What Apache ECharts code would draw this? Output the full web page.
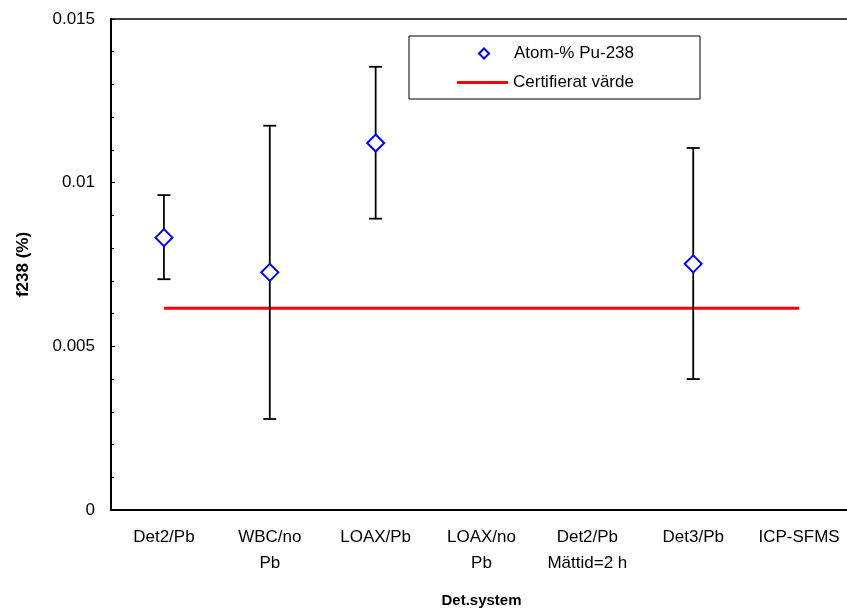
<!DOCTYPE html>
<html>
<head>
<meta charset="utf-8">
<script src="https://cdn.jsdelivr.net/npm/echarts@6/dist/echarts.min.js"></script>
<style>
html,body{margin:0;padding:0;background:#fff;}
#chart{width:847px;height:612px;}
</style>
</head>
<body>
<div id="chart"></div>
<script>
const categories = ['Det2/Pb', 'WBC/no\nPb', 'LOAX/Pb', 'LOAX/no\nPb', 'Det2/Pb\nMättid=2 h', 'Det3/Pb', 'ICP-SFMS'];
const atomPct = [0.00832, 0.00726, 0.01121, null, null, 0.00752, null];
const errLow = [0.00705, 0.00278, 0.00890, null, null, 0.00400, null];
const errHigh = [0.00962, 0.01174, 0.01354, null, null, 0.01106, null];
const certValue = [0.00616, 0.00616, 0.00616, 0.00616, 0.00616, 0.00616, 0.00616];
const yTicks = { min: 0, max: 0.015, interval: 0.005, minorInterval: 0.001 };

const errData = categories.map((c, i) => [i, errLow[i], errHigh[i]]).filter(d => d[1] != null);

const chart = echarts.init(document.getElementById('chart'));
const font = 'Liberation Sans, Arial, sans-serif';
chart.setOption({
  animation: false,
  backgroundColor: '#fff',
  grid: { left: 111, top: 19, height: 491, width: 741, outerBoundsMode: 'none', containLabel: false,
          show: true, borderColor: '#000', borderWidth: 1.5, backgroundColor: 'transparent' },
  xAxis: {
    type: 'category',
    data: categories,
    boundaryGap: true,
    name: 'Det.system',
    nameLocation: 'middle',
    nameGap: 83,
    nameTextStyle: { fontFamily: font, fontSize: 15, fontWeight: 'bold', color: '#000' },
    axisLine: { lineStyle: { color: '#000', width: 2 } },
    axisTick: { inside: true, length: 4, lineStyle: { color: '#000' } },
    axisLabel: { interval: 0, fontFamily: font, fontSize: 17, color: '#000', lineHeight: 26, margin: 14 },
    splitLine: { show: false }
  },
  yAxis: [
    {
      type: 'value',
      min: yTicks.min, max: yTicks.max, interval: yTicks.interval,
      name: 'f238 (%)',
      nameLocation: 'middle',
      nameGap: 79,
      nameTextStyle: { fontFamily: font, fontSize: 17, fontWeight: 'bold', color: '#000' },
      axisLine: { show: true, lineStyle: { color: '#000', width: 2 } },
      axisTick: { show: true, inside: true, length: 4, lineStyle: { color: '#000' } },
      axisLabel: { fontFamily: font, fontSize: 17, color: '#000', margin: 16 },
      splitLine: { show: false },
      z: 3
    },
    {
      type: 'value',
      position: 'left',
      min: yTicks.min, max: yTicks.max, interval: yTicks.minorInterval,
      axisLine: { show: false },
      axisTick: { show: true, inside: true, length: 3, lineStyle: { color: '#000' } },
      axisLabel: { show: false },
      splitLine: { show: false },
      z: 2
    }
  ],
  legend: [
    { data: ['Atom-% Pu-238'], left: 473, top: 40, itemWidth: 10, itemHeight: 10,
      textStyle: { fontFamily: font, fontSize: 17, color: '#000', padding: [0, 0, 0, 20] }, selectedMode: false },
    { data: [{ name: 'Certifierat värde', icon: 'rect' }], left: 452, top: 69, itemWidth: 51, itemHeight: 3,
      textStyle: { fontFamily: font, fontSize: 17, color: '#000' }, selectedMode: false }
  ],
  graphic: [
    { type: 'rect', shape: { x: 409, y: 36, width: 291, height: 63 }, style: { fill: 'none', stroke: '#000', lineWidth: 1 }, z: 10 }
  ],
  series: [
    {
      name: 'Certifierat värde',
      type: 'line',
      data: certValue,
      symbol: 'none',
      lineStyle: { color: '#ff0000', width: 3 },
      itemStyle: { color: '#ff0000' },
      z: 2
    },
    {
      name: 'errbar',
      type: 'custom',
      data: errData,
      encode: { x: 0, y: [1, 2] },
      renderItem: function (params, api) {
        const x = api.value(0);
        const lo = api.coord([x, api.value(1)]);
        const hi = api.coord([x, api.value(2)]);
        const hw = 6.5;
        const st = { stroke: '#000', lineWidth: 1.8 };
        return {
          type: 'group',
          children: [
            { type: 'line', shape: { x1: lo[0], y1: lo[1], x2: hi[0], y2: hi[1] }, style: st },
            { type: 'line', shape: { x1: lo[0] - hw, y1: lo[1], x2: lo[0] + hw, y2: lo[1] }, style: st },
            { type: 'line', shape: { x1: hi[0] - hw, y1: hi[1], x2: hi[0] + hw, y2: hi[1] }, style: st }
          ]
        };
      },
      z: 3
    },
    {
      name: 'Atom-% Pu-238',
      type: 'scatter',
      data: atomPct,
      symbol: 'diamond',
      symbolSize: 17,
      itemStyle: { color: '#fff', borderColor: '#0000ff', borderWidth: 2, opacity: 1 },
      z: 4
    }
  ]
});
</script>
</body>
</html>
